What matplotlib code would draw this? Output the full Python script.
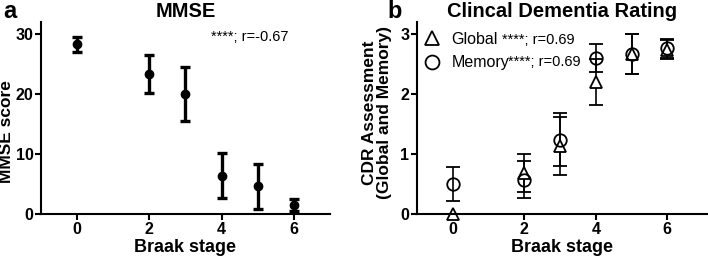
import matplotlib.pyplot as plt
from matplotlib.lines import Line2D

plt.rcParams['font.family'] = ['Liberation Sans', 'DejaVu Sans']

# Panel a: MMSE by Braak stage
braak_a = [0, 2, 3, 4, 5, 6]
mmse_mean = [28.3, 23.3, 20.0, 6.4, 4.6, 1.5]
mmse_err = [1.25, 3.15, 4.55, 3.7, 3.75, 1.0]

# Panel b: CDR global and memory
braak_b = [0, 2, 3, 4, 5, 6]
cdr_global = [0.0, 0.68, 1.13, 2.2, 2.67, 2.74]
cdr_global_err = [0.0, 0.32, 0.48, 0.38, 0.33, 0.16]
cdr_memory = [0.5, 0.57, 1.24, 2.6, 2.67, 2.76]
cdr_memory_err = [0.28, 0.31, 0.44, 0.24, 0.33, 0.16]

fig = plt.figure(figsize=(7.08, 2.6), dpi=100)
ax1 = fig.add_axes([0.058, 0.177, 0.408, 0.738])
ax2 = fig.add_axes([0.589, 0.177, 0.409, 0.738])


def style_axis(ax):
    for side in ['top', 'right']:
        ax.spines[side].set_visible(False)
    for side in ['left', 'bottom']:
        ax.spines[side].set_linewidth(1.5)
    ax.tick_params(direction='out', length=4, width=1.5, labelsize=11.5, pad=1.5)
    for lbl in ax.get_xticklabels() + ax.get_yticklabels():
        lbl.set_fontweight('bold')
    ax.set_xlabel('Braak stage', fontsize=13, fontweight='bold', labelpad=2)


# --- panel a
ax1.errorbar(braak_a, mmse_mean, yerr=mmse_err, fmt='o', color='black',
             markersize=6, elinewidth=2.4, capsize=3.8, capthick=2.4)
ax1.set_xlim(-1, 7)
ax1.set_ylim(0, 32)
ax1.set_xticks([0, 2, 4, 6])
ax1.set_yticks([0, 10, 20, 30])
ax1.set_ylabel('MMSE score', fontsize=12.5, fontweight='bold')
ax1.yaxis.set_label_coords(-0.092, 0.43)
ax1.set_title('MMSE', fontsize=14.5, fontweight='bold', pad=4)
ax1.text(0.59, 0.92, '****; r=-0.67', transform=ax1.transAxes, fontsize=10.5,
         va='center')
style_axis(ax1)
fig.text(0.005, 0.93, 'a', fontsize=17, fontweight='bold')

# --- panel b
ax2.errorbar(braak_b, cdr_global, yerr=cdr_global_err, fmt='^', color='black',
             mfc='white', mec='black', mew=1.3, markersize=9,
             elinewidth=1.2, capsize=4.8, capthick=1.2, clip_on=False)
ax2.errorbar(braak_b, cdr_memory, yerr=cdr_memory_err, fmt='o', color='black',
             mfc='none', mec='black', mew=1.3, markersize=9,
             elinewidth=1.2, capsize=4.8, capthick=1.2, clip_on=False)
ax2.set_xlim(-1, 7.1)
ax2.set_ylim(0, 3.2)
ax2.set_xticks([0, 2, 4, 6])
ax2.set_yticks([0, 1, 2, 3])
ax2.set_ylabel('CDR Assessment\n(Global and Memory)', fontsize=12.5,
               fontweight='bold', linespacing=1.05)
ax2.yaxis.set_label_coords(-0.086, 0.53)
ax2.set_title('Clincal Dementia Rating', fontsize=14.5, fontweight='bold', pad=4)
style_axis(ax2)
fig.text(0.547, 0.93, 'b', fontsize=17, fontweight='bold')

handles = [
    Line2D([0], [0], marker='^', ls='none', mfc='white', mec='black', mew=1.3, markersize=10),
    Line2D([0], [0], marker='o', ls='none', mfc='white', mec='black', mew=1.3, markersize=10),
]
leg = ax2.legend(handles, ['Global', 'Memory'], loc='upper left', frameon=False,
                 fontsize=11.5, handletextpad=0.6, handlelength=1.2,
                 labelspacing=0.55, borderaxespad=0.0, borderpad=0.0,
                 bbox_to_anchor=(0.02, 0.95))
ax2.text(0.293, 0.905, '****; r=0.69', transform=ax2.transAxes, fontsize=10.5,
         va='center')
ax2.text(0.313, 0.79, '****; r=0.69', transform=ax2.transAxes, fontsize=10.5,
         va='center')

fig.savefig('out.png', dpi=100)
